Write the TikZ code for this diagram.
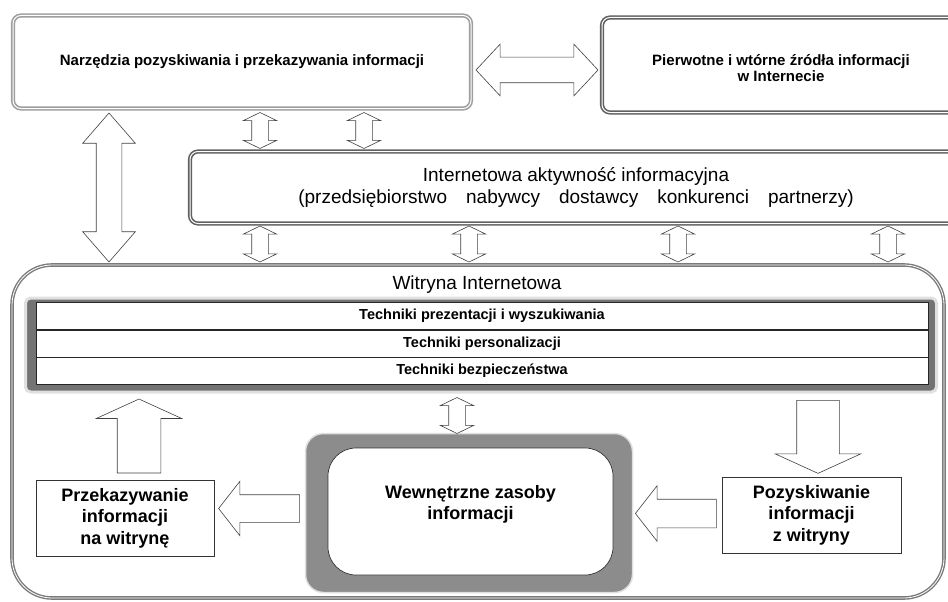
\documentclass[tikz,border=0pt]{standalone}
\usepackage{fontspec}
\setmainfont{Liberation Sans}
\usetikzlibrary{shapes.arrows,positioning}

\begin{document}
\begin{tikzpicture}[x=1pt,y=-1pt]
       \tikzstyle{outerbox}=[draw=black!38, double=white, double distance=1pt, line width=1.6pt, rounded corners=8pt, fill=white]
       \tikzstyle{darkbox}=[outerbox, draw=black!62]
       \tikzstyle{plainbox}=[draw=black!80, line width=0.8pt, fill=white, align=center, font=\bfseries\fontsize{18}{21.5}\selectfont]
       \tikzstyle{rowbox}=[draw=black!85, line width=0.7pt, fill=white, minimum width=892pt, minimum height=26.7pt, inner sep=0pt, font=\bfseries\fontsize{14.5}{16}\selectfont]
       \tikzstyle{blockarrow}=[draw=black!75, fill=white, line width=0.6pt, inner sep=0pt]
       \tikzstyle{smallarrow}=[blockarrow, double arrow, shape border rotate=90, minimum height=36pt, inner xsep=8pt, double arrow head extend=8.5pt, double arrow tip angle=128]
       \useasboundingbox (0,0) rectangle (948,602);
       % top row
       \node[outerbox, minimum width=458pt, minimum height=93pt, font=\bfseries\fontsize{15}{18}\selectfont] (narz) at (242,62) {Narzędzia pozyskiwania i przekazywania informacji};
       \node[darkbox, minimum width=358pt, minimum height=95pt,
         label={[yshift=-3pt, align=center, font=\bfseries\fontsize{15}{16}\selectfont]center:Pierwotne i wtórne źródła informacji\\w Internecie}] (zrodla) at (781,65) {};
       \node[darkbox, minimum width=772pt, minimum height=72pt, align=center, font=\fontsize{19}{22}\selectfont] (aktyw) at (576,187.5) {Internetowa aktywność informacyjna\\(przedsiębiorstwo\hspace{1em}nabywcy\hspace{1em}dostawcy\hspace{1em}konkurenci\hspace{1em}partnerzy)};
       % witryna
       \node[draw=black!52, double=white, double distance=0.8pt, line width=1.4pt, rounded corners=40pt, minimum width=932pt, minimum height=333pt] (witryna) at (478,431.5) {};
       \node[font=\fontsize{19}{22}\selectfont] (wtytul) at (477,285) {Witryna Internetowa};
       \node[fill=black!55, draw=black!12, line width=3pt, rounded corners=5pt, minimum width=911pt, minimum height=94pt] (band) at (481,345) {};
       \node[rowbox] (tper) at (482,343.5) {Techniki personalizacji};
       \node[rowbox, above=0pt of tper] (tpre) {Techniki prezentacji i wyszukiwania};
       \node[rowbox, below=0pt of tper] (tbez) {Techniki bezpieczeństwa};
       \node[fill=black!45, draw=black!12, line width=1.5pt, rounded corners=18pt, minimum width=327pt, minimum height=159pt] (zasobyframe) at (469,513) {};
       \node[draw=black!80, line width=0.7pt, fill=white, rounded corners=28pt, minimum width=285pt, minimum height=127pt,
         label={[yshift=7pt, align=center, font=\bfseries\fontsize{18}{21}\selectfont]center:Wewnętrzne zasoby\\informacji}] (zasoby) at (470.5,511.5) {};
       \node[plainbox, minimum width=178pt, minimum height=76pt] (przek) at (125,518) {Przekazywanie\\informacji\\na witrynę};
       \node[plainbox, minimum width=179pt, minimum height=76pt] (pozysk) at (811.5,515) {Pozyskiwanie\\informacji\\z witryny};
       % block arrows
       \node[blockarrow, double arrow, minimum height=122pt, inner ysep=12.5pt, double arrow head extend=13pt, double arrow tip angle=94] (narzzrodla) at (537,70) {};
       \node[blockarrow, double arrow, shape border rotate=90, minimum height=149pt, inner xsep=12.5pt, double arrow head extend=13.5pt, double arrow tip angle=82] (narzwit) at (109,187.5) {};
       \foreach \x in {260,364}
         \node[smallarrow] at (\x,130.5) {};
       \foreach \x in {260,469,678,888}
         \node[smallarrow] at (\x,244) {};
       \node[smallarrow] (bandzasoby) at (457,415.5) {};
       \node[blockarrow, single arrow, shape border rotate=90, minimum height=74pt, inner xsep=21.5pt, single arrow head extend=21pt, single arrow tip angle=131] (przekband) at (139,441) {};
       \node[blockarrow, single arrow, shape border rotate=270, minimum height=73pt, inner xsep=21pt, single arrow head extend=21.5pt, single arrow tip angle=131] (bandpozysk) at (818,432) {};
       \node[blockarrow, single arrow, shape border rotate=180, minimum height=81pt, inner ysep=13.5pt, single arrow head extend=13.5pt, single arrow tip angle=104] (zasobyprzek) at (264.5,508.5) {};
       \node[blockarrow, single arrow, shape border rotate=180, minimum height=81pt, inner ysep=14pt, single arrow head extend=13.5pt, single arrow tip angle=104] (pozyskzasoby) at (681.5,513.5) {};
      \end{tikzpicture}
\end{document}
